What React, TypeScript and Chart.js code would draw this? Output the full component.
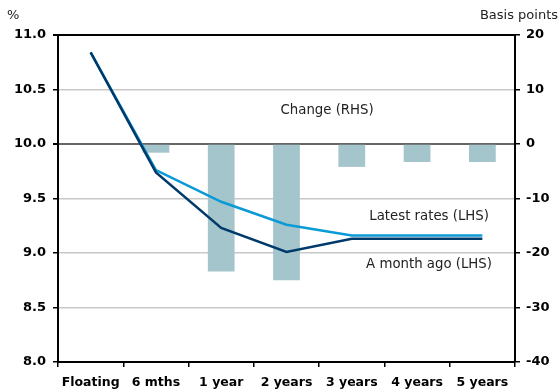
import React, { useEffect, useRef } from "react";
import { Chart, registerables } from "chart.js";

Chart.register(...registerables);

const categories = ["Floating", "6 mths", "1 year", "2 years", "3 years", "4 years", "5 years"];
const changeRHS = [0, -1.6, -23.4, -25.0, -4.2, -3.3, -3.3];
const latestRates = [10.84, 9.76, 9.47, 9.26, 9.16, 9.16, 9.16];
const monthAgo = [10.84, 9.74, 9.23, 9.01, 9.13, 9.13, 9.13];
const leftTicks = [8.0, 8.5, 9.0, 9.5, 10.0, 10.5, 11.0];
const rightTicks = [-40, -30, -20, -10, 0, 10, 20];

const FONT = "'DejaVu Sans', Verdana, sans-serif";

const textPlugin = {
  id: "texts",
  afterDraw(chart: any) {
    const ctx = chart.ctx;
    const y = chart.scales.y;
    const y2 = chart.scales.y2;
    const x = chart.scales.x;
    ctx.save();
    ctx.fillStyle = "#222";
    ctx.font = `13px ${FONT}`;
    ctx.textBaseline = "middle";
    ctx.textAlign = "left";
    ctx.fillText("%", 7, 16);
    ctx.textAlign = "right";
    ctx.fillText("Basis points", 558, 16);
    ctx.font = `13.3px ${FONT}`;
    ctx.textAlign = "center";
    const midX = (x.getPixelForValue(3) + x.getPixelForValue(4)) / 2;
    ctx.fillText("Change (RHS)", midX + 8, y2.getPixelForValue(6.2));
    ctx.textAlign = "right";
    ctx.fillText("Latest rates (LHS)", 489, y.getPixelForValue(9.33));
    ctx.fillText("A month ago (LHS)", 492, y.getPixelForValue(8.89));
    ctx.restore();
  },
};

export default function App() {
  const ref = useRef<HTMLCanvasElement>(null);
  useEffect(() => {
    if (!ref.current) return;
    const chart = new Chart(ref.current, {
      type: "bar",
      data: {
        labels: categories,
        datasets: [
          {
            type: "line",
            label: "A month ago (LHS)",
            data: monthAgo,
            yAxisID: "y",
            borderColor: "#003a6b",
            borderWidth: 2.5,
            pointRadius: 0,
            tension: 0,
            order: 1,
          } as any,
          {
            type: "line",
            label: "Latest rates (LHS)",
            data: latestRates,
            yAxisID: "y",
            borderColor: "#0a9ad6",
            borderWidth: 2.5,
            pointRadius: 0,
            tension: 0,
            order: 2,
          },
          {
            type: "bar",
            label: "Change (RHS)",
            data: changeRHS,
            yAxisID: "y2",
            backgroundColor: "#a5c5cc",
            barPercentage: 0.41,
            categoryPercentage: 1,
            order: 3,
          },
        ],
      },
      options: {
        responsive: false,
        animation: false,
        layout: { padding: { top: 35, left: 0, right: 0, bottom: 0 } },
        plugins: { legend: { display: false }, tooltip: { enabled: false }, title: { display: false } },
        scales: {
          x: {
            offset: true,
            grid: { offset: true, drawOnChartArea: false, drawTicks: true, tickLength: 5, tickColor: "#000", lineWidth: 1.5 },
            border: { display: true, color: "#000", width: 2 },
            ticks: { color: "#000", font: { family: FONT, size: 12.5, weight: "bold" }, padding: 8, maxRotation: 0, autoSkip: false },
            afterFit: (s: any) => { s.height = 28; },
          },
          y: {
            position: "left",
            min: 8,
            max: 11,
            afterBuildTicks: (s: any) => { s.ticks = leftTicks.map((v) => ({ value: v })); },
            grid: {
              color: (c: any) => (c.tick && Math.abs(c.tick.value - 11) < 1e-6 ? "#000" : Math.abs((c.tick?.value ?? 0) - 10) < 1e-6 ? "#666" : "#c8c8c8"),
              lineWidth: (c: any) => (c.tick && (Math.abs(c.tick.value - 11) < 1e-6 || Math.abs(c.tick.value - 10) < 1e-6) ? 2 : 1.5),
              tickColor: "#000",
              tickLength: 5,
            },
            border: { display: true, color: "#000", width: 2 },
            ticks: {
              color: "#000",
              padding: 7,
              font: { family: FONT, size: 13, weight: "bold" },
              callback: (v: any) => Number(v).toFixed(1),
            },
            afterFit: (s: any) => { s.width = 58; },
          },
          y2: {
            position: "right",
            min: -40,
            max: 20,
            afterBuildTicks: (s: any) => { s.ticks = rightTicks.map((v) => ({ value: v })); },
            grid: { drawOnChartArea: false, tickColor: "#000", tickLength: 5, lineWidth: 1.5 },
            border: { display: true, color: "#000", width: 2 },
            ticks: {
              color: "#000",
              padding: 6,
              font: { family: FONT, size: 13, weight: "bold" },
              callback: (v: any) => String(v),
            },
            afterFit: (s: any) => { s.width = 44; },
          },
        },
      },
      plugins: [textPlugin],
    } as any);
    return () => chart.destroy();
  }, []);
  return (
    <div style={{ position: "fixed", left: 0, top: 0, width: 559, height: 390, background: "#fff" }}>
      <canvas ref={ref} width={559} height={390} style={{ display: "block", width: 559, height: 390 }} />
    </div>
  );
}
